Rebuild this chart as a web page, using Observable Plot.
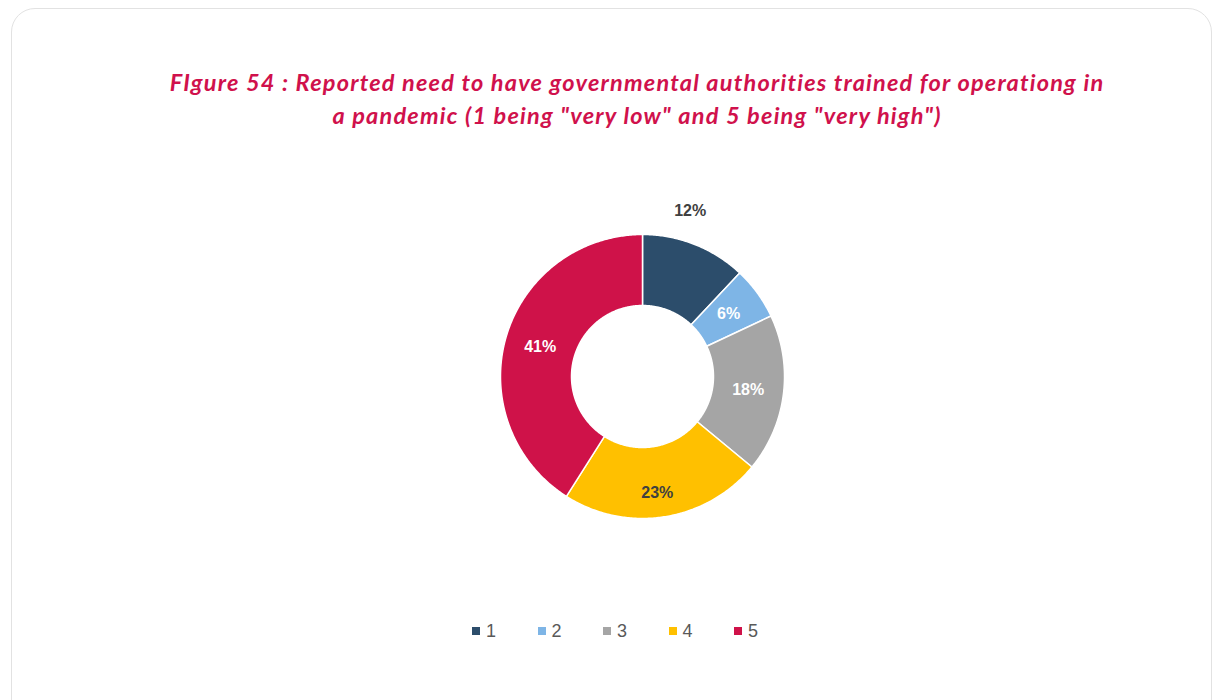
<!DOCTYPE html>
<html>
<head>
<meta charset="utf-8">
<script src="https://cdn.jsdelivr.net/npm/d3@7"></script>
<script src="https://cdn.jsdelivr.net/npm/@observablehq/plot@0.6"></script>
<style>
  html, body { margin: 0; padding: 0; background: #ffffff; }
  #page { position: relative; width: 1217px; height: 700px; overflow: hidden; background: #fff; }
  #frame { position: absolute; left: 11px; top: 8px; width: 1201px; height: 730px;
           border: 1.5px solid #e2e2e2; border-radius: 24px; box-sizing: border-box; }
  #title { position: absolute; left: 87px; width: 1100px; top: 66px; text-align: center;
           font-family: Lato, "Open Sans", sans-serif; font-weight: bold; font-style: italic;
           font-size: 23.5px; letter-spacing: 1.2px; line-height: 33px; color: #D0114C; }
  #chart { position: absolute; left: 0; top: 160px; }
  #legend { position: absolute; top: 619px; left: 0; width: 1217px; height: 24px;
            font-family: "Liberation Sans", Arial, sans-serif; font-size: 18px; color: #595959; }
  .item { position: absolute; top: 0; height: 24px; display: flex; align-items: center; }
  .sw { width: 8px; height: 8px; margin-right: 6px; }
</style>
</head>
<body>
<div id="page">
  <div id="frame"></div>
  <div id="title"></div>
  <div id="chart"></div>
  <div id="legend"></div>
</div>
<script>
// ---- data ----
const titleText = 'FIgure 54 : Reported need to have governmental authorities trained for operationg in<br>a pandemic (1 being "very low" and 5 being "very high")';
const categories = ["1", "2", "3", "4", "5"];
const values = [12, 6, 18, 23, 41];
const labels = ["12%", "6%", "18%", "23%", "41%"];

// ---- styles ----
const colors = ["#2C4D6B", "#7EB5E6", "#A5A5A5", "#FFC000", "#CF1249"];
const labelColors = ["#404040", "#ffffff", "#ffffff", "#404040", "#ffffff"];
const labelRadius = [1.18, 0.75, 0.75, 0.8, 0.75];
const labelShift = [[-14, -10], [0, 0], [0, 0], [-3, 4], [0, 0]];

document.getElementById("title").innerHTML = titleText;

const W = 1217, H = 440;
const cx = 642, cy = 216, R = 142;     // layout in pixels
const innerFrac = 0.5;

const pie = d3.pie().sort(null).value(d => d.value)(categories.map((c, i) => ({category: c, value: values[i], label: labels[i], i})));

// polygon points for each ring slice
const pts = [];
for (const p of pie) {
  const n = Math.max(8, Math.ceil((p.endAngle - p.startAngle) / 0.01));
  for (let k = 0; k <= n; k++) {
    const a = p.startAngle + (p.endAngle - p.startAngle) * k / n;
    pts.push({category: p.data.category, x: Math.sin(a), y: Math.cos(a)});
  }
  for (let k = n; k >= 0; k--) {
    const a = p.startAngle + (p.endAngle - p.startAngle) * k / n;
    pts.push({category: p.data.category, x: innerFrac * Math.sin(a), y: innerFrac * Math.cos(a)});
  }
}

const labelPts = pie.map(p => {
  const a = (p.startAngle + p.endAngle) / 2;
  const i = p.data.i;
  const r = labelRadius[i];
  return {x: r * Math.sin(a) + labelShift[i][0] / R, y: r * Math.cos(a) - labelShift[i][1] / R, label: p.data.label, i};
});

const chart = Plot.plot({
  width: W, height: H,
  margin: 0,
  x: {domain: [-cx / R, (W - cx) / R], axis: null},
  y: {domain: [-(H - cy) / R, cy / R], axis: null},
  color: {domain: categories, range: colors},
  marks: [
    Plot.line(pts, {x: "x", y: "y", z: "category", fill: "category", stroke: "#ffffff", strokeWidth: 1.5, curve: "linear-closed"}),
    Plot.text(labelPts, {x: "x", y: "y", text: "label", fill: d => labelColors[d.i],
      fontSize: 16, fontWeight: "bold", fontFamily: "Liberation Sans, Arial, sans-serif"}),
  ],
  style: {background: "transparent", overflow: "visible"}
});
document.getElementById("chart").appendChild(chart);

// legend
const legend = document.getElementById("legend");
categories.forEach((c, i) => {
  const it = document.createElement("div");
  it.className = "item";
  it.style.left = (472 + i * 65.5) + "px";
  const sw = document.createElement("div");
  sw.className = "sw";
  sw.style.background = colors[i];
  const t = document.createElement("span");
  t.textContent = c;
  it.appendChild(sw); it.appendChild(t);
  legend.appendChild(it);
});
</script>
</body>
</html>
